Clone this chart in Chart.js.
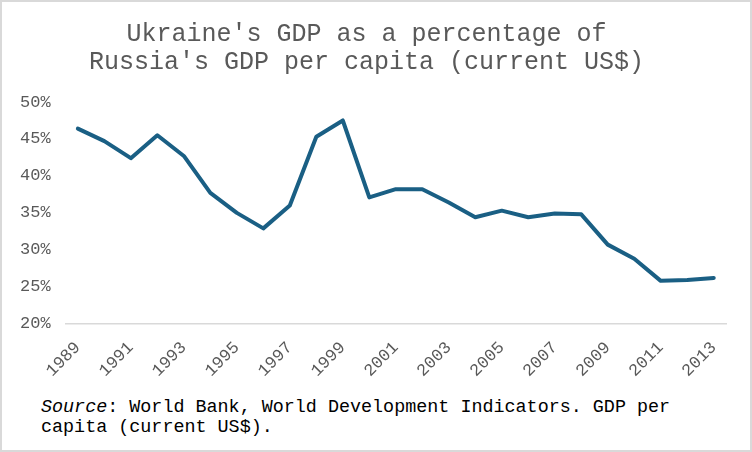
<!DOCTYPE html>
<html>
<head>
<meta charset="utf-8">
<script src="https://cdn.jsdelivr.net/npm/chart.js@4"></script>
<style>
    html, body { margin: 0; padding: 0; background: #fff; }
    #frame {
        position: relative;
        width: 748px;
        height: 448px;
        border: 2px solid #d9d9d9;
        background: #fff;
    }
    #chart-box { position: absolute; left: 0; top: 0; width: 748px; height: 393px; }
    #source {
        position: absolute;
        left: 39px;
        top: 396px;
        font: 18.4px 'Liberation Mono', 'Courier New', monospace;
        line-height: 20px;
        color: #000;
        white-space: nowrap;
    }
</style>
</head>
<body>
<div id="frame">
    <div id="chart-box"><canvas id="gdp-chart"></canvas></div>
    <div id="source"><i>Source</i>: World Bank, World Development Indicators. GDP per<br>capita (current US$).</div>
</div>
<script>
const years = [
    '1989', '1990', '1991', '1992', '1993', '1994', '1995', '1996', '1997',
    '1998', '1999', '2000', '2001', '2002', '2003', '2004', '2005', '2006',
    '2007', '2008', '2009', '2010', '2011', '2012', '2013',
];
// Ukraine GDP per capita as % of Russia's
const sharePct = [
    46.4, 44.7, 42.4, 45.5, 42.7, 37.7, 35.0, 32.9, 36.0,
    45.3, 47.5, 37.1, 38.2, 38.2, 36.4, 34.4, 35.3, 34.4,
    34.9, 34.8, 30.7, 28.8, 25.8, 25.9, 26.2,
];
const titleLines = [
    "Ukraine's GDP as a percentage of",
    "Russia's GDP per capita (current US$)",
];

const mono = "'Liberation Mono', 'Courier New', monospace";
const grey = '#595959';
const lineBlue = '#1a5f84';

new Chart(document.getElementById('gdp-chart'), {
    type: 'line',
    data: {
        labels: years,
        datasets: [
            {
                label: 'Ukraine / Russia',
                data: sharePct,
                borderColor: lineBlue,
                backgroundColor: lineBlue,
                borderWidth: 4,
                pointRadius: 0,
                tension: 0,
                borderJoinStyle: 'round',
                borderCapStyle: 'round',
            },
        ],
    },
    options: {
        responsive: true,
        maintainAspectRatio: false,
        animation: false,
        layout: { padding: { left: 4, right: 23, top: 0, bottom: 0 } },
        scales: {
            x: {
                offset: true,
                grid: { display: false, drawTicks: false },
                border: { display: false },
                ticks: {
                    autoSkip: false,
                    minRotation: 45,
                    maxRotation: 45,
                    padding: 14,
                    color: grey,
                    font: { family: mono, size: 17 },
                    callback: (value, index) => (index % 2 === 0 ? years[index] : ''),
                },
            },
            y: {
                min: 20,
                max: 50,
                grid: {
                    drawTicks: false,
                    color: (ctx) => (ctx.tick && ctx.tick.value === 20 ? '#d9d9d9' : 'rgba(0,0,0,0)'),
                    lineWidth: 1.5,
                },
                border: { display: false },
                ticks: {
                    stepSize: 5,
                    padding: 14,
                    color: grey,
                    font: { family: mono, size: 17 },
                    callback: (v) => v + '%',
                },
            },
        },
        plugins: {
            legend: { display: false },
            tooltip: { enabled: false },
            title: {
                display: true,
                text: titleLines,
                color: grey,
                font: { family: mono, size: 25, weight: 'normal', lineHeight: 1.12 },
                padding: { top: 18, bottom: 26 },
            },
        },
    },
});
</script>
</body>
</html>
